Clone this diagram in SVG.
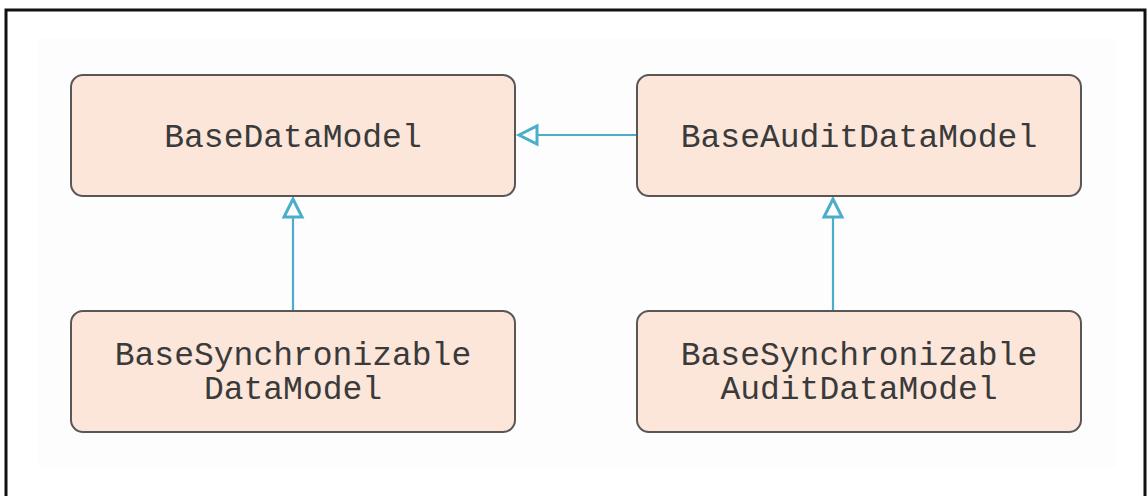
<svg xmlns="http://www.w3.org/2000/svg" width="1147" height="496" viewBox="0 0 1147 496">
  <style>
    .box { fill: #fce6da; stroke: #5a5656; stroke-width: 2; }
    .label { font-family: "Liberation Mono", "Courier New", monospace; font-size: 33px; fill: #3a3a3a; text-anchor: middle; }
    .edge { stroke: #4aaecb; stroke-width: 2.2; fill: none; }
    .head { fill: #ffffff; stroke: #4aaecb; stroke-width: 3; stroke-linejoin: miter; }
  </style>
  <rect width="1147" height="496" fill="#ffffff"/>
  <!-- frame, open at the bottom -->
  <path d="M6,496 V10 H1145 V496" fill="none" stroke="#111111" stroke-width="3"/>
  <!-- light panel -->
  <rect x="37" y="38" width="1079" height="429" fill="#fdfdfd"/>

  <g id="connectors">
    <line class="edge" x1="637" y1="135" x2="537" y2="135"/>
    <polygon class="head" points="519,135 537,126 537,144"/>
    <line class="edge" x1="293" y1="311" x2="293" y2="217"/>
    <polygon class="head" points="293,199 284,217 302,217"/>
    <line class="edge" x1="833" y1="311" x2="833" y2="217"/>
    <polygon class="head" points="833,199 824,217 842,217"/>
  </g>

  <g id="base-data-model">
    <rect class="box" x="71" y="75" width="444" height="121" rx="12"/>
    <text class="label" x="293" y="147">BaseDataModel</text>
  </g>
  <g id="base-audit-data-model">
    <rect class="box" x="637" y="75" width="444" height="121" rx="12"/>
    <text class="label" x="859" y="147">BaseAuditDataModel</text>
  </g>
  <g id="base-sync-data-model">
    <rect class="box" x="71" y="311" width="444" height="121" rx="12"/>
    <text class="label" x="293" y="365">BaseSynchronizable</text>
    <text class="label" x="293" y="399">DataModel</text>
  </g>
  <g id="base-sync-audit-data-model">
    <rect class="box" x="637" y="311" width="444" height="121" rx="12"/>
    <text class="label" x="859" y="365">BaseSynchronizable</text>
    <text class="label" x="859" y="399">AuditDataModel</text>
  </g>
</svg>
